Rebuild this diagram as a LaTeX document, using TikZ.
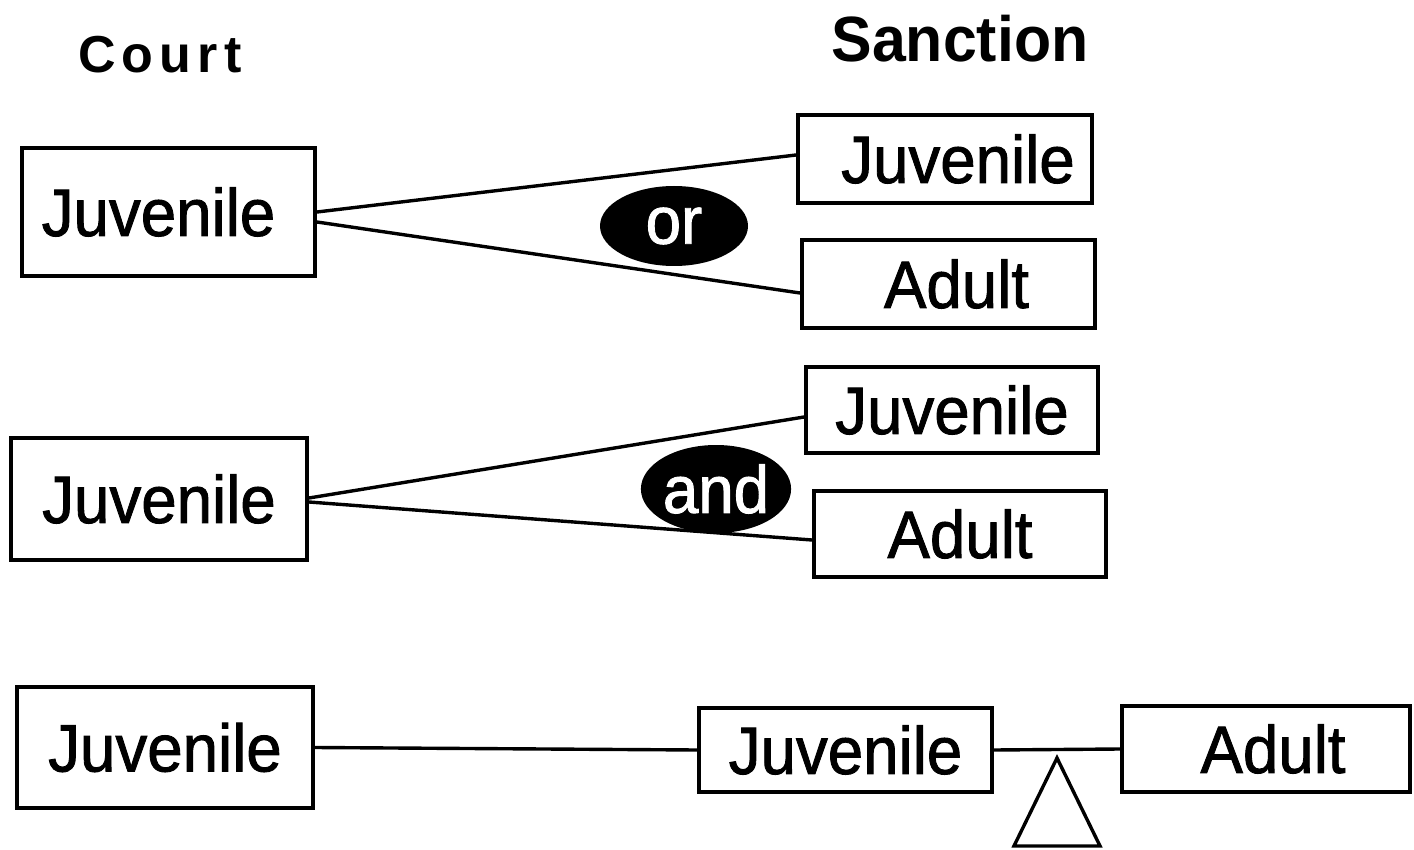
\documentclass[tikz,border=0pt]{standalone}
\usepackage{fontspec}
\setmainfont{Liberation Sans}[FakeStretch=0.95]
\newfontfamily\boxfont{Liberation Sans}[FakeStretch=0.95, FakeBold=1.3]
\newfontfamily\courtfont{Liberation Sans}[LetterSpace=12]
\usetikzlibrary{shapes.geometric}
\begin{document}
\begin{tikzpicture}[x=0.5pt,y=-0.5pt,
 box/.style={draw, line width=2pt, rectangle, inner sep=0pt, font=\fontsize{33.5}{36}\boxfont},
 conn/.style={line width=1.7pt},
 oval/.style={ellipse, fill=black, text=white, inner sep=0pt, font=\fontsize{33.5}{36}\boxfont},
 title/.style={anchor=base, inner sep=0pt}]
\useasboundingbox (0,0) rectangle (1414,850);
% titles
\node[title, font=\fontsize{26}{30}\courtfont\bfseries] (court) at (160,73) {Court};
\node[title, font=\fontsize{32}{35}\selectfont\bfseries] (sanc) at (960,62) {Sanction};
% row 1
\node[box, minimum width=146.5pt, minimum height=64pt] (c1) at (168.5,212) {\hspace{-10pt}Juvenile};
\node[box, minimum width=147pt, minimum height=44pt] (s1) at (945,159) {\hspace{13pt}Juvenile};
\node[box, minimum width=146.5pt, minimum height=44pt] (a1) at (948.5,284) {\hspace{8pt}Adult};
% row 2
\node[box, minimum width=148pt, minimum height=61pt] (c2) at (159,499) {Juvenile};
\node[box, minimum width=146pt, minimum height=43pt] (s2) at (952,410) {Juvenile};
\node[box, minimum width=146pt, minimum height=43pt] (a2) at (960,534) {Adult};
% row 3
\node[box, minimum width=148pt, minimum height=60.5pt] (c3) at (165,747.5) {Juvenile};
\node[box, minimum width=146.5pt, minimum height=42pt] (s3) at (845.5,750) {Juvenile};
\node[box, minimum width=144pt, minimum height=43pt] (a3) at (1266,749) {\hspace{7pt}Adult};
% connectors
\draw[conn] (c1.east) -- ([yshift=2pt]s1.west);
\draw[conn] ([yshift=-5pt]c1.east) -- ([yshift=-4.5pt]a1.west);
\draw[conn] ([yshift=0.5pt]c2.east) -- ([yshift=-3.5pt]s2.west);
\draw[conn] ([yshift=-1.5pt]c2.east) -- ([yshift=-3pt]a2.west);
\draw[conn] (c3.east) -- (s3.west);
\draw[conn] (s3.east) -- (a3.west);
% ovals
\node[oval, minimum width=74pt, minimum height=40pt] (or) at (674,226) {or};
\node[oval, minimum width=61.5pt, minimum height=44pt] (and) at (716,489) {and};
% fulcrum
\coordinate (apex) at (1057,758);
\coordinate (bl) at (1014,846);
\coordinate (br) at (1100,846);
\draw[conn] (apex) -- (br) -- (bl) -- cycle;
\end{tikzpicture}
\end{document}
